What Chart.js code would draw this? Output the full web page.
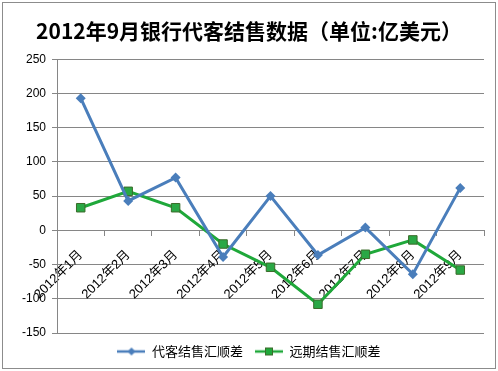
<!DOCTYPE html>
<html>
<head>
<meta charset="utf-8">
<script src="https://cdn.jsdelivr.net/npm/chart.js@4"></script>
<style>
  html, body { margin: 0; padding: 0; background: #fff; }
  #wrap { width: 498px; height: 371px; }
</style>
</head>
<body>
<div id="wrap"><canvas id="chart" width="498" height="371"></canvas></div>
<script>
const months = ['2012年1月', '2012年2月', '2012年3月', '2012年4月', '2012年5月', '2012年6月', '2012年7月', '2012年8月', '2012年9月'];
const agentNet = [193, 43, 77, -39, 50, -36, 4, -64, 62];
const forwardNet = [33, 57, 33, -20, -54, -108, -35, -14, -58];
const seriesNames = ['代客结售汇顺差', '远期结售汇顺差'];

const BLUE = '#4a7ebb';
const GREEN = '#1fa83a';
const CJK = "'Liberation Sans', 'Noto Sans CJK SC', sans-serif";

// small legend swatch: line with marker in the middle
function swatch(color, marker, border) {
    const c = document.createElement('canvas');
    c.width = 28; c.height = 12;
    const g = c.getContext('2d');
    g.strokeStyle = color;
    g.lineWidth = 2.5;
    g.beginPath(); g.moveTo(0, 6); g.lineTo(28, 6); g.stroke();
    g.fillStyle = color;
    if (marker === 'diamond') {
        g.beginPath(); g.moveTo(14, 2); g.lineTo(18, 6); g.lineTo(14, 10); g.lineTo(10, 6); g.closePath(); g.fill();
    } else {
        g.fillRect(10, 2, 8, 8);
        g.strokeStyle = border; g.lineWidth = 1;
        g.strokeRect(10.5, 2.5, 7, 7);
    }
    return c;
}

const frame = {
    id: 'frame',
    beforeDraw(chart) {
        const ctx = chart.ctx;
        ctx.save();
        ctx.fillStyle = '#fff';
        ctx.fillRect(0, 0, chart.width, chart.height);
        ctx.strokeStyle = '#8c8c8c';
        ctx.lineWidth = 1;
        ctx.strokeRect(2.5, 2.5, chart.width - 5, chart.height - 5);
        ctx.restore();
    }
};

new Chart(document.getElementById('chart'), {
    type: 'line',
    data: {
        labels: months,
        datasets: [{
            label: seriesNames[0],
            data: agentNet,
            borderColor: BLUE,
            backgroundColor: BLUE,
            borderWidth: 3,
            pointStyle: 'rectRot',
            pointRadius: 5,
            pointBorderWidth: 0,
            tension: 0
        }, {
            label: seriesNames[1],
            data: forwardNet,
            borderColor: GREEN,
            backgroundColor: '#2aa845',
            pointBorderColor: '#3b6b2a',
            borderWidth: 3,
            pointStyle: 'rect',
            pointRadius: 6,
            pointBorderWidth: 1,
            tension: 0
        }]
    },
    options: {
        responsive: false,
        animation: false,
        layout: { padding: { top: 8, left: 14, right: 14, bottom: 3 } },
        plugins: {
            title: {
                display: true,
                text: '2012年9月银行代客结售数据（单位:亿美元）',
                color: '#000',
                font: { family: "'Noto Sans CJK SC', sans-serif", size: 21, weight: 'bold' },
                padding: { top: 10, bottom: 16 }
            },
            legend: {
                position: 'bottom',
                labels: {
                    color: '#000',
                    font: { family: "'Noto Sans CJK SC', sans-serif", size: 13 },
                    usePointStyle: true,
                    pointStyleWidth: 28,
                    padding: 12,
                    generateLabels(chart) {
                        return [
                            { text: seriesNames[0], pointStyle: swatch(BLUE, 'diamond'), datasetIndex: 0, fontColor: '#000', lineWidth: 0, strokeStyle: 'transparent', fillStyle: BLUE },
                            { text: seriesNames[1], pointStyle: swatch(GREEN, 'square', '#3b6b2a'), datasetIndex: 1, fontColor: '#000', lineWidth: 0, strokeStyle: 'transparent', fillStyle: GREEN }
                        ];
                    }
                }
            },
            tooltip: { enabled: false }
        },
        scales: {
            x: {
                position: { y: 0 },
                offset: true,
                grid: { display: true, drawOnChartArea: false, drawTicks: true, tickLength: 5, color: '#868686', offset: true },
                border: { color: '#868686' },
                ticks: {
                    color: '#000',
                    font: { family: CJK, size: 13 },
                    minRotation: 45,
                    maxRotation: 45,
                    padding: 12
                }
            },
            y: {
                min: -150,
                max: 250,
                ticks: {
                    stepSize: 50,
                    color: '#000',
                    font: { family: CJK, size: 12 },
                    padding: 6
                },
                grid: { color: '#868686', tickLength: 5 },
                border: { color: '#868686' },
                afterFit(scale) { scale.width = 43; }
            }
        }
    },
    plugins: [frame]
});
</script>
</body>
</html>
